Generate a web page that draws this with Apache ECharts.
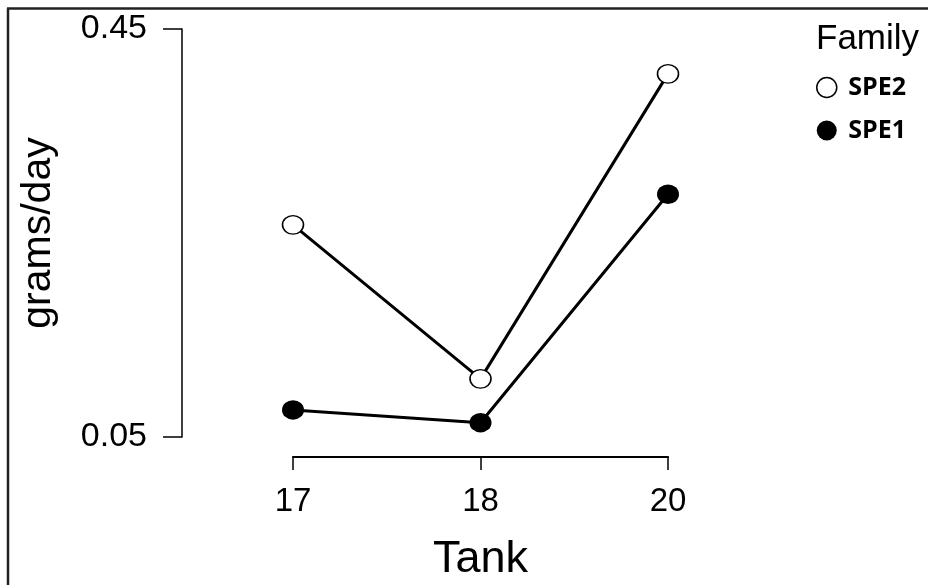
<!DOCTYPE html>
<html>
<head>
<meta charset="utf-8">
<script src="https://cdn.jsdelivr.net/npm/echarts@6/dist/echarts.min.js"></script>
<style>
html,body{margin:0;padding:0;background:#fff;}
#chart{width:928px;height:585px;}
</style>
</head>
<body>
<div id="chart"></div>
<script>
const tanks = ['17', '18', '20'];
const spe2 = [0.258, 0.107, 0.406];
const spe1 = [0.0765, 0.064, 0.288];
const yTicks = [0.05, 0.45];

const chart = echarts.init(document.getElementById('chart'), null, {renderer: 'canvas'});
const font = '"Liberation Sans", Arial, sans-serif';
chart.setOption({
  backgroundColor: '#fff',
  animation: false,
  title: {
    text: 'Family', left: 811, top: 17,
    textStyle: {fontFamily: font, fontSize: 35, fontWeight: 'normal', color: '#000'}
  },
  legend: {
    orient: 'vertical', left: 811, top: 70, itemGap: 18,
    itemWidth: 23, itemHeight: 20, icon: 'circle',
    textStyle: {fontFamily: '"Open Sans", sans-serif', fontWeight: 'bold', fontSize: 25, color: '#000', padding: [0, 0, 0, 5]},
    data: [
      {name: 'SPE2', itemStyle: {color: '#fff', borderColor: '#000', borderWidth: 1.5}},
      {name: 'SPE1', itemStyle: {color: '#000', borderColor: '#000', borderWidth: 0}}
    ]
  },
  grid: {left: 293, right: 260, top: 29, bottom: 148, containLabel: false, outerBoundsMode: 'none'},
  xAxis: {
    type: 'category', data: tanks, boundaryGap: false, offset: 20,
    axisLine: {lineStyle: {color: '#000', width: 2.2}},
    axisTick: {length: 13, lineStyle: {color: '#000', width: 1.5}},
    axisLabel: {fontFamily: font, fontSize: 33, color: '#000', margin: 28},
    name: 'Tank', nameLocation: 'middle', nameGap: 80,
    nameTextStyle: {fontFamily: font, fontSize: 45, color: '#000'},
    splitLine: {show: false}
  },
  yAxis: {
    type: 'value', min: 0.05, max: 0.45, offset: 111,
    axisLine: {show: true, lineStyle: {color: '#000', width: 1.5}},
    axisTick: {show: true, length: 19, customValues: yTicks, lineStyle: {color: '#000', width: 1.5}},
    axisLabel: {fontFamily: font, fontSize: 34, color: '#000', margin: 35, customValues: yTicks,
      formatter: v => v.toFixed(2)},
    splitLine: {show: false},
    name: 'grams/day', nameLocation: 'middle', nameGap: 123, nameRotate: 90,
    nameTextStyle: {fontFamily: font, fontSize: 41, color: '#000'}
  },
  graphic: [
    {type: 'line', shape: {x1: 8, y1: 8.5, x2: 8, y2: 585}, style: {stroke: '#222', lineWidth: 2.5}},
    {type: 'line', shape: {x1: 7, y1: 8.5, x2: 928, y2: 8.5}, style: {stroke: '#222', lineWidth: 2.5}}
  ],
  series: [
    {
      name: 'SPE2', type: 'line', data: spe2, symbol: 'circle', symbolSize: [21, 18.5],
      lineStyle: {color: '#000', width: 3},
      itemStyle: {color: '#fff', borderColor: '#000', borderWidth: 1.5},
      z: 3
    },
    {
      name: 'SPE1', type: 'line', data: spe1, symbol: 'circle', symbolSize: [22, 19.5],
      lineStyle: {color: '#000', width: 3},
      itemStyle: {color: '#000', borderColor: '#000', borderWidth: 0},
      z: 3
    }
  ]
});
</script>
</body>
</html>
